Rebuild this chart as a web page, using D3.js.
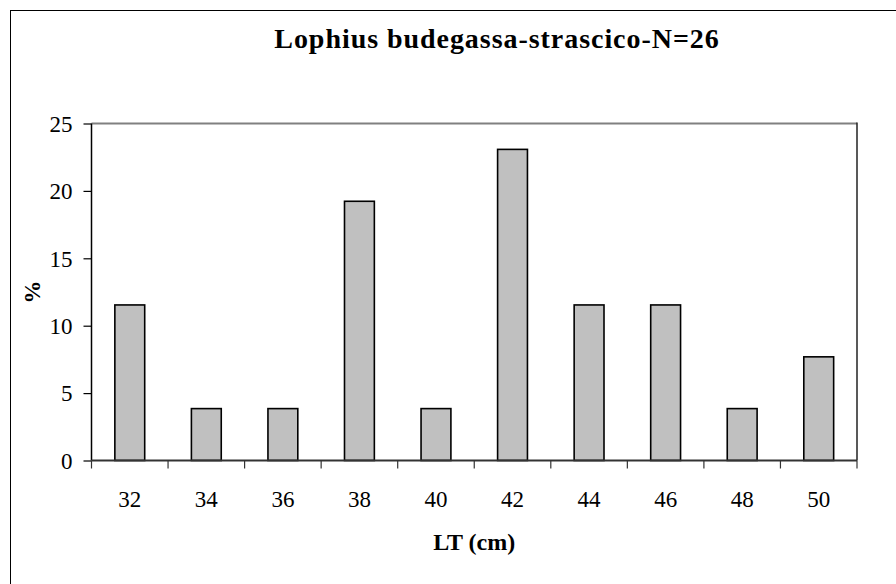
<!DOCTYPE html>
<html><head><meta charset="utf-8">
<script src="https://cdn.jsdelivr.net/npm/d3@7"></script>
<style>body{margin:0;background:#fff}svg{display:block}svg text{font-family:"Liberation Serif","Times New Roman","DejaVu Serif",serif}</style>
</head><body>
<svg id="c" width="896" height="584"></svg>
<script>
const categories = ["32","34","36","38","40","42","44","46","48","50"];
const values = [11.54, 3.85, 3.85, 19.23, 3.85, 23.08, 11.54, 11.54, 3.85, 7.69];
const yTicks = [0, 5, 10, 15, 20, 25];
const title = "Lophius budegassa-strascico-N=26";
const xTitle = "LT (cm)";
const yTitle = "%";

const svg = d3.select("#c");
const font = '"Liberation Serif","Times New Roman","DejaVu Serif",serif';
const L = 91.5, R = 857, T = 123.5, B = 460.5;

// outer chart border
svg.append("rect").attr("x", 10.5).attr("y", 10.5).attr("width", 1000).attr("height", 1000)
  .attr("fill", "#fff").attr("stroke", "#000").attr("stroke-width", 1);

const x = d3.scaleBand().domain(categories).range([L, R]).padding(0);
const y = d3.scaleLinear().domain([0, 25]).range([B, T]);

// plot area border
svg.append("line").attr("x1", L).attr("x2", R).attr("y1", T).attr("y2", T)
  .attr("stroke", "#808080").attr("stroke-width", 2);
svg.append("line").attr("x1", R).attr("x2", R).attr("y1", T - 1).attr("y2", B)
  .attr("stroke", "#222").attr("stroke-width", 1.5);

// bars
const bw = x.bandwidth() * 0.39;
svg.append("g").selectAll("rect").data(values).join("rect")
  .attr("x", (d, i) => x(categories[i]) + x.bandwidth() / 2 - bw / 2)
  .attr("y", d => y(d))
  .attr("width", bw)
  .attr("height", d => y(0) - y(d))
  .attr("fill", "#c0c0c0").attr("stroke", "#000").attr("stroke-width", 1.6);

// y axis
const yAxis = d3.axisLeft(y).tickValues(yTicks).tickSize(8).tickPadding(11).tickFormat(d3.format("d"));
const gy = svg.append("g").attr("transform", `translate(${L},0)`).call(yAxis);
gy.attr("font-family", null).attr("font-size", null);
gy.select(".domain").attr("stroke", "#000").attr("stroke-width", 1.5).attr("d", `M0,${T}V${B}`);
gy.selectAll(".tick line").attr("stroke", "#000").attr("stroke-width", 1.2);
gy.selectAll("text").style("font-family", font).style("font-size", "23px").attr("fill", "#000").attr("dy", "0.34em");

// x axis: ticks at band boundaries
const bounds = categories.map(c => x(c)).concat([R]);
const gx = svg.append("g");
gx.append("line").attr("x1", L).attr("x2", R).attr("y1", B).attr("y2", B)
  .attr("stroke", "#333").attr("stroke-width", 2);
gx.selectAll("line.t").data(bounds).join("line").attr("class", "t")
  .attr("x1", d => d).attr("x2", d => d).attr("y1", B).attr("y2", B + 8)
  .attr("stroke", "#333").attr("stroke-width", 1.2);
gx.selectAll("text").data(categories).join("text")
  .attr("x", d => x(d) + x.bandwidth() / 2).attr("y", 506.5)
  .attr("text-anchor", "middle").style("font-family", font).style("font-size", "23px").attr("fill", "#000")
  .text(d => d);

// titles
svg.append("text").attr("x", 497).attr("y", 48).attr("text-anchor", "middle")
  .style("font-family", font).style("font-weight", "bold").style("font-size", "28px")
  .style("letter-spacing", "0.95px").text(title);
svg.append("text").attr("x", (L + R) / 2).attr("y", 550).attr("text-anchor", "middle")
  .style("font-family", font).style("font-weight", "bold").style("font-size", "24px").text(xTitle);
svg.append("text").attr("transform", `translate(40,${(T + B) / 2}) rotate(-90)`).attr("text-anchor", "middle")
  .style("font-family", font).style("font-weight", "bold").style("font-size", "23px").text(yTitle);
</script>
</body></html>
